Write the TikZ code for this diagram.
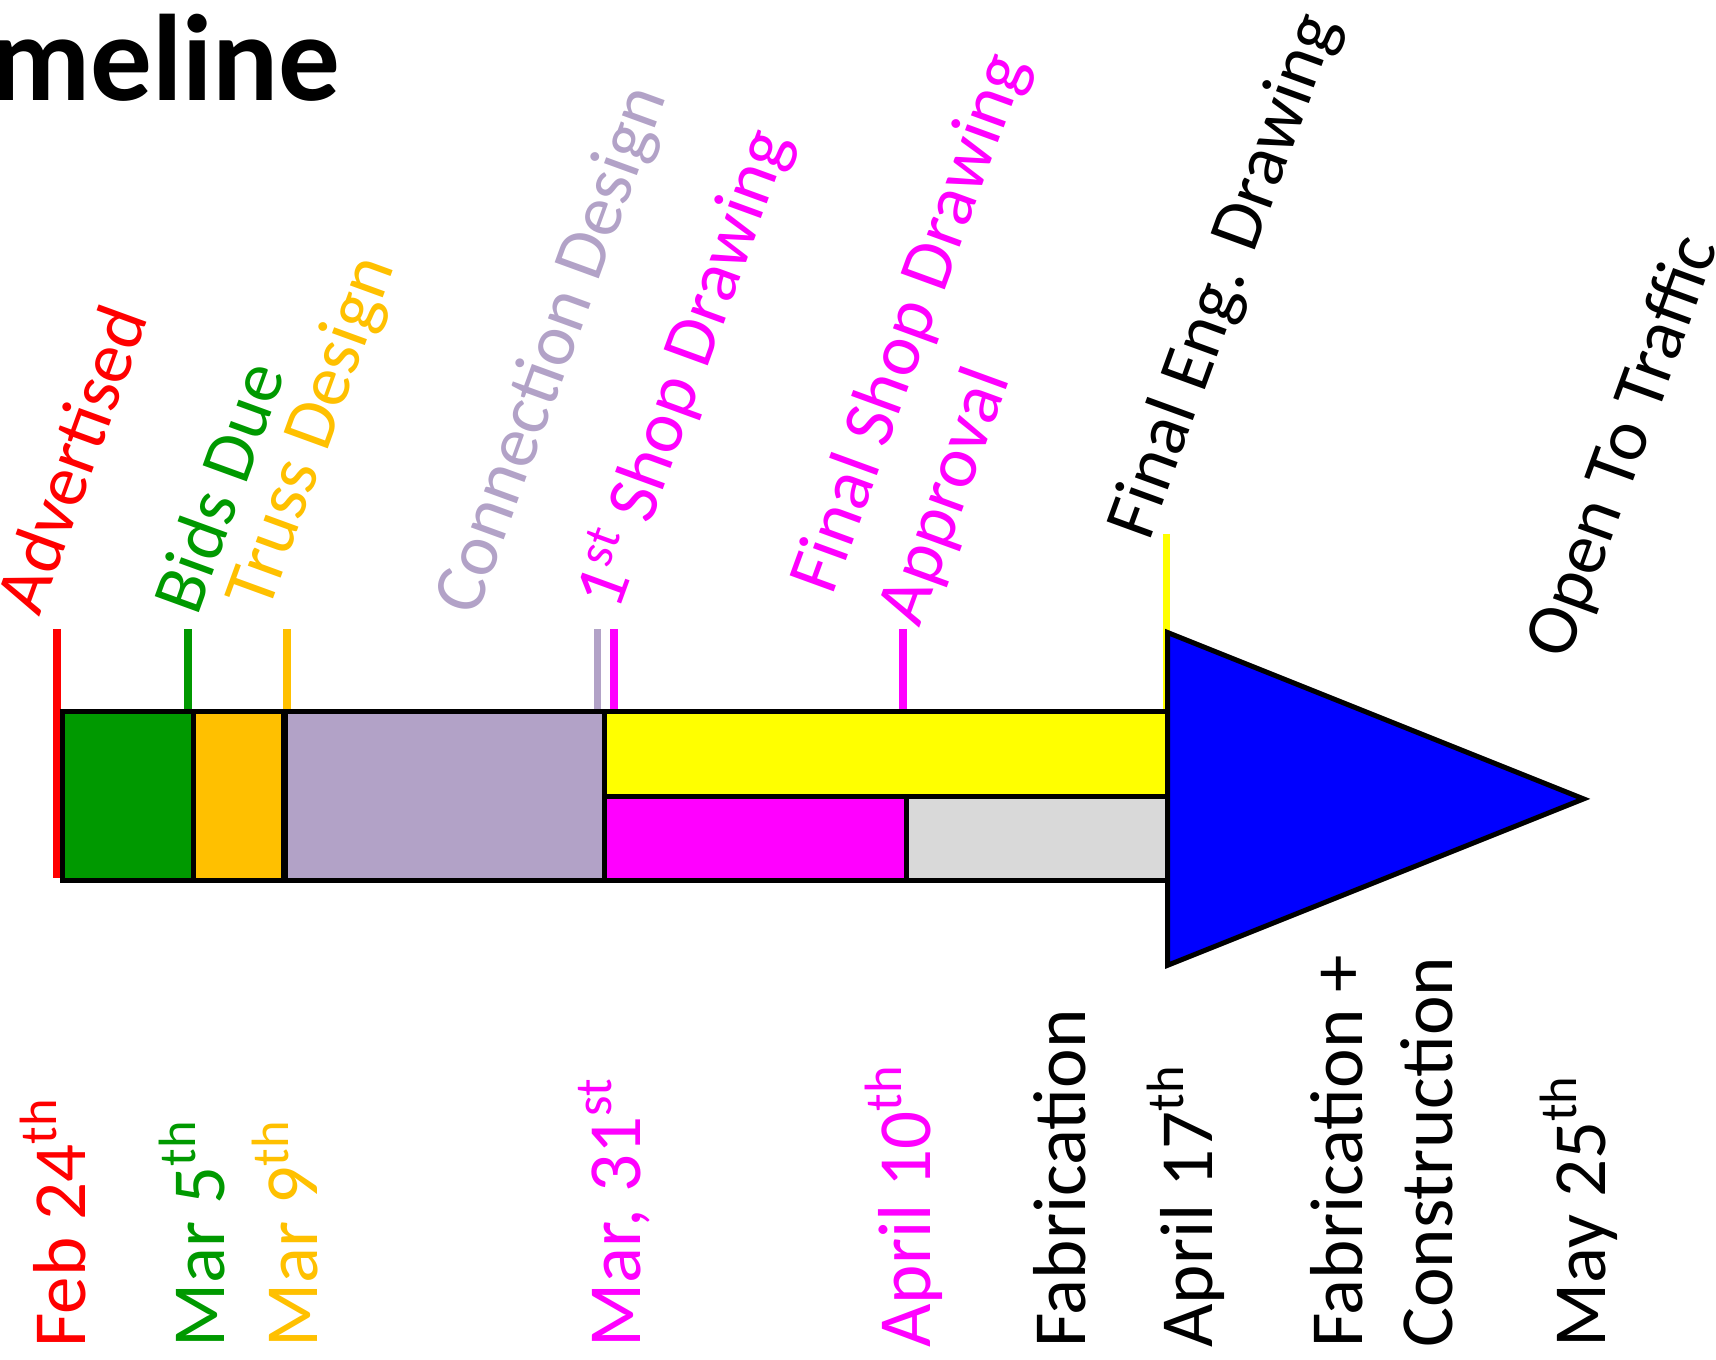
\documentclass[tikz,border=0pt]{standalone}
\usepackage{fontspec}
\setmainfont{Carlito}
\usetikzlibrary{positioning}
\definecolor{tlred}{HTML}{FF0000}
\definecolor{tlgreen}{HTML}{009900}
\definecolor{tlorange}{HTML}{FFC000}
\definecolor{tllav}{HTML}{B2A2C7}
\definecolor{tlmag}{HTML}{FF00FF}
\definecolor{tlyel}{HTML}{FFFF00}
\definecolor{tlgray}{HTML}{D9D9D9}
\definecolor{tlblue}{HTML}{0000FF}
\tikzset{
  toplbl/.style={rotate=70, anchor=base west, inner sep=0pt, align=left,
    font=\fontsize{19}{24}\selectfont},
  datelbl/.style={rotate=90, anchor=base west, inner sep=0pt, align=left,
    font=\fontsize{19.5}{23.3}\selectfont},
  seg/.style={draw=black, line width=1.3pt},
  tickln/.style={line width=2pt}
}
\begin{document}
\begin{tikzpicture}
\useasboundingbox (0,0) rectangle (15.68,-12.42);
\begin{scope}
  \clip (0,0) rectangle (15.68,-12.42);
  \node[anchor=base west, inner sep=0pt, font=\fontsize{32}{38}\selectfont\bfseries] (title) at (-0.93,-0.92) {Timeline};
\end{scope}

% milestone ticks
\draw[tickln, tlred] (0.52,-5.75) -- (0.52,-8.02);
\foreach \x/\c in {1.72/tlgreen, 2.62/tlorange, 5.46/tllav, 5.61/tlmag, 8.25/tlmag}
  \draw[tickln, \c] (\x,-5.75) -- (\x,-6.50);
\draw[tickln, tlyel] (10.66,-4.88) -- (10.66,-6.50);

% bar
\filldraw[seg, fill=tlgreen] (0.57,-6.50) rectangle (1.77,-8.05);
\filldraw[seg, fill=tlorange] (1.77,-6.50) rectangle (2.60,-8.05);
\filldraw[seg, fill=tllav] (2.60,-6.50) rectangle (5.52,-8.05);
\draw[seg, line width=2pt] (2.60,-6.50) -- (2.60,-8.05);
\filldraw[seg, fill=tlyel] (5.52,-6.50) rectangle (10.67,-7.28);
\filldraw[seg, fill=tlmag] (5.52,-7.28) rectangle (8.28,-8.05);
\filldraw[seg, fill=tlgray] (8.28,-7.28) rectangle (10.67,-8.05);
\filldraw[seg, fill=tlblue] (10.67,-5.78) -- (14.47,-7.30) -- (10.67,-8.82) -- cycle;

% tasks
\node[toplbl, tlred] (advertised) at (0.36,-5.65) {Advertised};
\node[toplbl, tlgreen] (bidsdue) at (1.80,-5.65) {Bids Due};
\node[toplbl, tlorange] (truss) at (2.45,-5.60) {Truss Design};
\node[toplbl, tllav] (conn) at (4.35,-5.65) {Connection Design};
\node[toplbl, tlmag] (shopfirst) at (5.65,-5.60) {1\textsuperscript{st} Shop Drawing};
\node[toplbl, tlmag] (shopfinal) at (8.40,-5.75) {Final Shop Drawing\\Approval};
\node[toplbl] (engfinal) at (10.50,-4.96) {Final Eng. Drawing};
\node[toplbl] (opentraffic) at (14.32,-6.05) {Open To Traffic};

% dates
\node[datelbl, tlred] (feb) at (0.78,-12.32) {Feb 24\textsuperscript{th}};
\node[datelbl, tlgreen] (marfive) at (2.05,-12.32) {Mar 5\textsuperscript{th}};
\node[datelbl, tlorange] (marnine) at (2.90,-12.32) {Mar 9\textsuperscript{th}};
\node[datelbl, tlmag] (marend) at (5.85,-12.32) {Mar, 31\textsuperscript{st}};
\node[datelbl, tlmag] (aprten) at (8.50,-12.32) {April 10\textsuperscript{th}};
\node[datelbl] (fab) at (9.92,-12.32) {Fabrication};
\node[datelbl] (aprseventeen) at (11.08,-12.32) {April 17\textsuperscript{th}};
\node[datelbl] (fabcon) at (13.27,-12.32) {Fabrication +\\Construction};
\node[datelbl] (may) at (14.67,-12.32) {May 25\textsuperscript{th}};
\end{tikzpicture}
\end{document}
